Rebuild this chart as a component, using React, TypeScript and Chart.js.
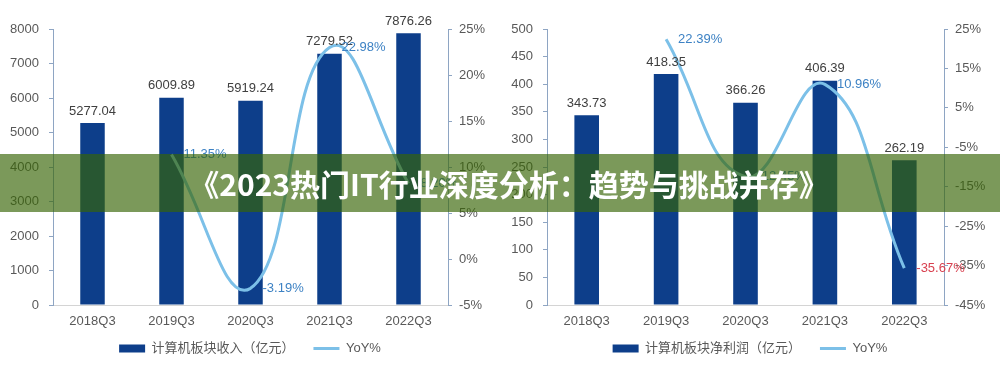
import React, { useEffect, useRef } from "react";
import { Chart, registerables } from "chart.js";

Chart.register(...registerables);

// ---------- data ----------
const categories = ["2018Q3", "2019Q3", "2020Q3", "2021Q3", "2022Q3"];

const revenue = [5277.04, 6009.89, 5919.24, 7279.52, 7876.26];
const revenueYoY = [null, 11.35, -3.19, 22.98, 8.2];
const revenueYoYLabelColors = ["#3d82c4", "#3d82c4", "#3d82c4", "#3d82c4", "#3d82c4"];

const profit = [343.73, 418.35, 366.26, 406.39, 262.19];
const profitYoY = [null, 22.39, -12.45, 10.96, -35.67];
const profitYoYLabelColors = ["#3d82c4", "#3d82c4", "#3d82c4", "#3d82c4", "#d8404f"];

const revenueLegend = "计算机板块收入（亿元）";
const profitLegend = "计算机板块净利润（亿元）";
const yoyLegend = "YoY%";
const bannerTitle = "《2023热门IT行业深度分析：趋势与挑战并存》";

// axis ranges [min, max, step]
const revenueAxis = [0, 8000, 1000];
const revenueYoYAxis = [-5, 25, 5];
const profitAxis = [0, 500, 50];
const profitYoYAxis = [-45, 25, 10];

// ---------- styles ----------
const BAR_COLOR = "#0d3e8a";
const LINE_COLOR = "#7cc0e8";
const AXIS_COLOR = "#8ea5c3";
const TEXT_COLOR = "#595959";
const FONT_FAMILY = "'Liberation Sans', Arial, 'Noto Sans CJK SC', sans-serif";
const LEGEND_GAP = "   ";

const valueLabelsPlugin = {
  id: "valueLabels",
  afterDatasetsDraw(chart: any, _args: any, opts: any) {
    const ctx = chart.ctx;
    ctx.save();
    ctx.font = `13px ${FONT_FAMILY}`;
    ctx.textBaseline = "middle";
    const barMeta = chart.getDatasetMeta(0);
    const barData = chart.data.datasets[0].data;
    ctx.textAlign = "center";
    ctx.fillStyle = "#404040";
    barMeta.data.forEach((el: any, i: number) => {
      const v = barData[i];
      if (v == null) return;
      ctx.fillText(Number(v).toFixed(2), el.x, el.y - 12);
    });
    const lineMeta = chart.getDatasetMeta(1);
    const lineData = chart.data.datasets[1].data;
    ctx.textAlign = "left";
    lineMeta.data.forEach((el: any, i: number) => {
      const v = lineData[i];
      if (v == null) return;
      ctx.fillStyle = (opts && opts.colors && opts.colors[i]) || "#3d82c4";
      ctx.fillText(Number(v).toFixed(2) + "%", el.x + 12, el.y);
    });
    ctx.restore();
  },
};

type ComboProps = {
  bars: number[];
  yoy: (number | null)[];
  yoyColors: string[];
  barLegend: string;
  leftAxis: number[];
  rightAxis: number[];
  leftWidth: number;
  rightWidth: number;
};

function ComboChart(props: ComboProps) {
  const ref = useRef<HTMLCanvasElement | null>(null);

  useEffect(() => {
    if (!ref.current) return;
    const chart = new Chart(ref.current, {
      type: "bar",
      data: {
        labels: categories,
        datasets: [
          {
            type: "bar",
            label: props.barLegend + LEGEND_GAP,
            data: props.bars,
            backgroundColor: BAR_COLOR,
            borderWidth: 0,
            barPercentage: 0.31,
            categoryPercentage: 1,
            yAxisID: "y",
            order: 2,
            pointStyle: "rect",
          } as any,
          {
            type: "line",
            label: yoyLegend,
            data: props.yoy,
            borderColor: LINE_COLOR,
            backgroundColor: LINE_COLOR,
            borderWidth: 3,
            pointRadius: 0,
            pointHoverRadius: 0,
            tension: 0.45,
            spanGaps: true,
            fill: false,
            yAxisID: "y1",
            order: 1,
            pointStyle: "line",
          } as any,
        ],
      },
      options: {
        responsive: false,
        maintainAspectRatio: false,
        animation: false,
        events: [],
        layout: { padding: { top: 29, bottom: 2, left: 0, right: 0 } },
        font: { family: FONT_FAMILY },
        scales: {
          x: {
            grid: { display: false, drawTicks: false },
            border: { display: true, color: "#d4d4d4", width: 1 },
            ticks: {
              color: TEXT_COLOR,
              font: { size: 13, family: FONT_FAMILY },
              padding: 9,
              maxRotation: 0,
            },
            afterFit: (s: any) => {
              s.height = 29;
            },
          },
          y: {
            position: "left",
            min: props.leftAxis[0],
            max: props.leftAxis[1],
            grid: {
              display: true,
              drawOnChartArea: false,
              drawTicks: true,
              tickLength: 4,
              color: AXIS_COLOR,
            },
            border: { display: true, color: AXIS_COLOR, width: 1 },
            ticks: {
              stepSize: props.leftAxis[2],
              color: TEXT_COLOR,
              font: { size: 13, family: FONT_FAMILY },
              padding: 10,
              callback: (v: any) => `${v}`,
            },
            afterFit: (s: any) => {
              s.width = props.leftWidth;
            },
          },
          y1: {
            position: "right",
            min: props.rightAxis[0],
            max: props.rightAxis[1],
            grid: {
              display: true,
              drawOnChartArea: false,
              drawTicks: true,
              tickLength: 4,
              color: AXIS_COLOR,
            },
            border: { display: true, color: AXIS_COLOR, width: 1 },
            ticks: {
              stepSize: props.rightAxis[2],
              color: TEXT_COLOR,
              font: { size: 13, family: FONT_FAMILY },
              padding: 7,
              callback: (v: any) => `${v}%`,
            },
            afterFit: (s: any) => {
              s.width = props.rightWidth;
            },
          },
        },
        plugins: {
          legend: {
            display: true,
            position: "bottom",
            labels: {
              usePointStyle: true,
              pointStyleWidth: 26,
              boxWidth: 26,
              boxHeight: 8,
              padding: 8,
              color: TEXT_COLOR,
              font: { size: 13, family: FONT_FAMILY },
              sort: (a: any, b: any) => a.datasetIndex - b.datasetIndex,
            },
          },
          tooltip: { enabled: false },
          valueLabels: { colors: props.yoyColors },
        } as any,
      },
      plugins: [valueLabelsPlugin],
    });
    return () => chart.destroy();
  }, []);

  return (
    <canvas
      ref={ref}
      width={500}
      height={367}
      style={{ display: "block", width: 500, height: 367 }}
    />
  );
}

export default function App() {
  return (
    <div
      style={{
        position: "relative",
        width: 1000,
        height: 367,
        background: "#ffffff",
        overflow: "hidden",
      }}
    >
      <style>{"body{margin:0;background:#fff;}"}</style>
      <div style={{ position: "absolute", left: 0, top: 0 }}>
        <ComboChart
          bars={revenue}
          yoy={revenueYoY}
          yoyColors={revenueYoYLabelColors}
          barLegend={revenueLegend}
          leftAxis={revenueAxis}
          rightAxis={revenueYoYAxis}
          leftWidth={53}
          rightWidth={52}
        />
      </div>
      <div style={{ position: "absolute", left: 500, top: 0 }}>
        <ComboChart
          bars={profit}
          yoy={profitYoY}
          yoyColors={profitYoYLabelColors}
          barLegend={profitLegend}
          leftAxis={profitAxis}
          rightAxis={profitYoYAxis}
          leftWidth={47}
          rightWidth={56}
        />
      </div>
      <div
        style={{
          position: "absolute",
          left: 0,
          top: 154,
          width: 1000,
          height: 58,
          boxSizing: "border-box",
          paddingLeft: 18,
          background: "rgba(55,100,5,0.66)",
          display: "flex",
          alignItems: "center",
          justifyContent: "center",
          color: "#ffffff",
          fontFamily: "'Noto Sans CJK SC', sans-serif",
          fontWeight: 700,
          fontSize: 30,
          whiteSpace: "nowrap",
        }}
      >
        {bannerTitle}
      </div>
    </div>
  );
}
